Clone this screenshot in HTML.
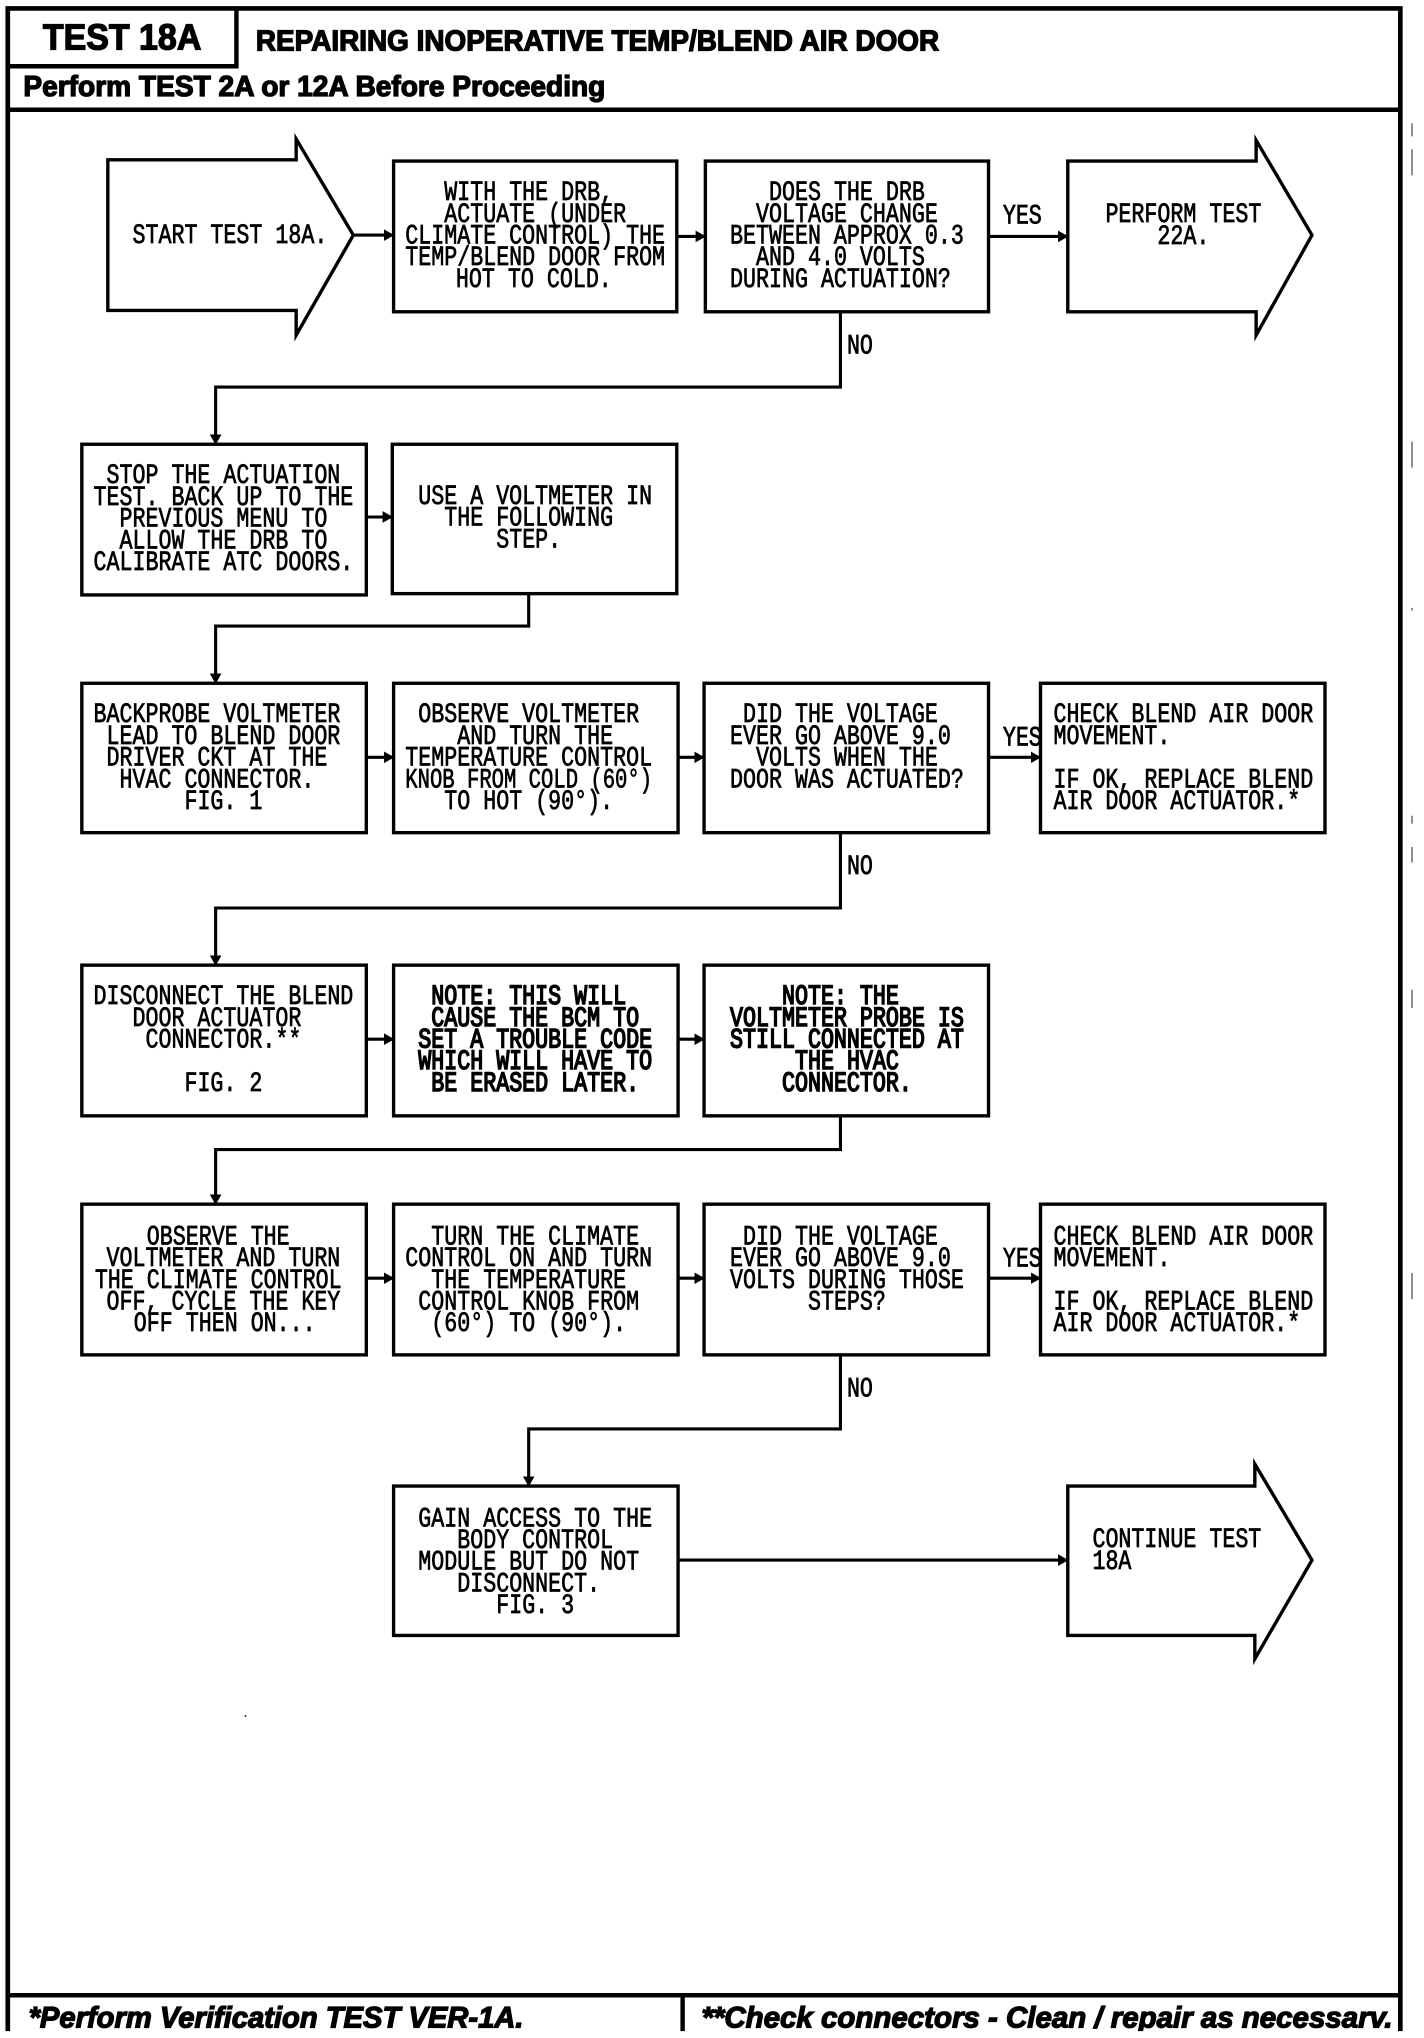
<!DOCTYPE html>
<html><head><meta charset="utf-8"><title>TEST 18A</title>
<style>
html,body{margin:0;padding:0;background:#fff;width:1424px;height:2038px;overflow:hidden}
svg{display:block}
.b{fill:#fff;stroke:#000;stroke-width:2.6;stroke-linejoin:miter}
.l{fill:none;stroke:#000;stroke-width:2.4}
.m{font-family:"Liberation Mono",monospace;font-size:16.67px;fill:#000;stroke:#000;stroke-width:.45}
.n{stroke-width:.95}
.h{font-family:"Liberation Sans",sans-serif;font-weight:bold;fill:#000;stroke:#000;stroke-width:1}
</style></head><body>
<svg width="1424" height="2038" viewBox="0 0 1424 2038" xmlns="http://www.w3.org/2000/svg">
<defs><marker id="a" markerWidth="8" markerHeight="10" refX="7.5" refY="5" orient="auto" markerUnits="userSpaceOnUse"><path d="M0 0.5L8 5L0 9.5z" fill="#000"/></marker></defs>
<g transform="scale(1.299)">
<!-- frame -->
<path d="M6 1570V6.5H1078V1570" fill="none" stroke="#000" stroke-width="3.6"/>
<path d="M6 51H182V6.5M6 84.5H1078M6 1536H1078" fill="none" stroke="#000" stroke-width="3.4"/>
<path d="M525.5 1536V1570" fill="none" stroke="#000" stroke-width="3.4"/>
<path d="M1087 95v10M1087 115v20M1087 340v20M1087 468v2M1087 628v6M1087 652v12M1087 762v14M1087 980v20" fill="none" stroke="#555" stroke-width="1"/>
<circle cx="189" cy="1321" r=".8" fill="#333"/>
<text class="h" x="33" y="38" font-size="27.7" textLength="122" lengthAdjust="spacingAndGlyphs">TEST 18A</text>
<text class="h" x="197" y="39" font-size="22" textLength="526" lengthAdjust="spacingAndGlyphs">REPAIRING INOPERATIVE TEMP/BLEND AIR DOOR</text>
<text class="h" x="18" y="74" font-size="22" textLength="448" lengthAdjust="spacingAndGlyphs">Perform TEST 2A or 12A Before Proceeding</text>
<text class="h" x="22" y="1561" font-size="23" font-style="italic" textLength="381" lengthAdjust="spacingAndGlyphs">*Perform Verification TEST VER-1A.</text>
<text class="h" x="540" y="1561" font-size="23" font-style="italic" textLength="532" lengthAdjust="spacingAndGlyphs">**Check connectors - Clean / repair as necessarv.</text>
<rect x="0" y="1563.6" width="1100" height="10" fill="#fff"/>

<!-- connectors -->
<path class="l" d="M272 181H303" marker-end="url(#a)"/>
<path class="l" d="M521 182H543" marker-end="url(#a)"/>
<path class="l" d="M761 182H822" marker-end="url(#a)"/>
<path class="l" d="M647 240V298H166V342" marker-end="url(#a)"/>
<path class="l" d="M282 398H302" marker-end="url(#a)"/>
<path class="l" d="M407 457V482H166V526" marker-end="url(#a)"/>
<path class="l" d="M282 583H303" marker-end="url(#a)"/>
<path class="l" d="M522 583H542" marker-end="url(#a)"/>
<path class="l" d="M761 583H801" marker-end="url(#a)"/>
<path class="l" d="M647 641V699H166V743" marker-end="url(#a)"/>
<path class="l" d="M282 800H303" marker-end="url(#a)"/>
<path class="l" d="M522 800H542" marker-end="url(#a)"/>
<path class="l" d="M647 859V885H166V927" marker-end="url(#a)"/>
<path class="l" d="M282 984H303" marker-end="url(#a)"/>
<path class="l" d="M522 984H542" marker-end="url(#a)"/>
<path class="l" d="M761 984H801" marker-end="url(#a)"/>
<path class="l" d="M647 1043V1100H407V1144" marker-end="url(#a)"/>
<path class="l" d="M522 1201H822" marker-end="url(#a)"/>

<!-- shapes -->
<path class="b" d="M83 123H228V107L272 181L228 258V239H83Z"/>
<path class="b" d="M822 124H967V108L1010 181L967 258V240H822Z"/>
<path class="b" d="M822 1144H966V1127L1010 1201L966 1277V1259H822Z"/>
<rect class="b" x="303" y="124" width="218" height="116"/>
<rect class="b" x="543" y="124" width="218" height="116"/>
<rect class="b" x="63" y="342" width="219" height="116"/>
<rect class="b" x="302" y="342" width="219" height="115"/>
<rect class="b" x="63" y="526" width="219" height="115"/>
<rect class="b" x="303" y="526" width="219" height="115"/>
<rect class="b" x="542" y="526" width="219" height="115"/>
<rect class="b" x="801" y="526" width="219" height="115"/>
<rect class="b" x="63" y="743" width="219" height="116"/>
<rect class="b" x="303" y="743" width="219" height="116"/>
<rect class="b" x="542" y="743" width="219" height="116"/>
<rect class="b" x="63" y="927" width="219" height="116"/>
<rect class="b" x="303" y="927" width="219" height="116"/>
<rect class="b" x="542" y="927" width="219" height="116"/>
<rect class="b" x="801" y="927" width="219" height="116"/>
<rect class="b" x="303" y="1144" width="219" height="115"/>

<!-- labels -->
<text class="m" transform="translate(772,172) scale(1,1.28)">YES</text>
<text class="m" transform="translate(772,574) scale(1,1.28)">YES</text>
<text class="m" transform="translate(772,975) scale(1,1.28)">YES</text>
<text class="m" transform="translate(652,272) scale(1,1.28)">NO</text>
<text class="m" transform="translate(652,673) scale(1,1.28)">NO</text>
<text class="m" transform="translate(652,1075) scale(1,1.28)">NO</text>

<!-- text blocks -->
<text class="m" transform="translate(0,187) scale(1,1.28)"><tspan x="102" y="0">START TEST 18A.</tspan></text>
<text class="m" transform="translate(0,154) scale(1,1.28)"><tspan x="342" y="0">WITH THE DRB,</tspan><tspan x="342" dy="13.05">ACTUATE (UNDER</tspan><tspan x="312" dy="13.05">CLIMATE CONTROL) THE</tspan><tspan x="312" dy="13.05">TEMP/BLEND DOOR FROM</tspan><tspan x="351" dy="13.05">HOT TO COLD.</tspan></text>
<text class="m" transform="translate(0,154) scale(1,1.28)"><tspan x="592" y="0">DOES THE DRB</tspan><tspan x="582" dy="13.05">VOLTAGE CHANGE</tspan><tspan x="562" dy="13.05">BETWEEN APPROX 0.3</tspan><tspan x="582" dy="13.05">AND 4.0 VOLTS</tspan><tspan x="562" dy="13.05">DURING ACTUATION?</tspan></text>
<text class="m" transform="translate(0,171) scale(1,1.28)"><tspan x="851" y="0">PERFORM TEST</tspan><tspan x="891" dy="13.05">22A.</tspan></text>
<text class="m" transform="translate(0,372) scale(1,1.28)"><tspan x="82" y="0">STOP THE ACTUATION</tspan><tspan x="72" dy="13.05">TEST. BACK UP TO THE</tspan><tspan x="92" dy="13.05">PREVIOUS MENU TO</tspan><tspan x="92" dy="13.05">ALLOW THE DRB TO</tspan><tspan x="72" dy="13.05">CALIBRATE ATC DOORS.</tspan></text>
<text class="m" transform="translate(0,388) scale(1,1.28)"><tspan x="322" y="0">USE A VOLTMETER IN</tspan><tspan x="342" dy="13.05">THE FOLLOWING</tspan><tspan x="382" dy="13.05">STEP.</tspan></text>
<text class="m" transform="translate(0,556) scale(1,1.28)"><tspan x="72" y="0">BACKPROBE VOLTMETER</tspan><tspan x="82" dy="13.05">LEAD TO BLEND DOOR</tspan><tspan x="82" dy="13.05">DRIVER CKT AT THE</tspan><tspan x="92" dy="13.05">HVAC CONNECTOR.</tspan><tspan x="142" dy="13.05">FIG. 1</tspan></text>
<text class="m" transform="translate(0,556) scale(1,1.28)"><tspan x="322" y="0">OBSERVE VOLTMETER</tspan><tspan x="352" dy="13.05">AND TURN THE</tspan><tspan x="312" dy="13.05">TEMPERATURE CONTROL</tspan><tspan x="312" dy="13.05" textLength="190" lengthAdjust="spacingAndGlyphs">KNOB FROM COLD (60°)</tspan><tspan x="342" dy="13.05">TO HOT (90°).</tspan></text>
<text class="m" transform="translate(0,556) scale(1,1.28)"><tspan x="572" y="0">DID THE VOLTAGE</tspan><tspan x="562" dy="13.05">EVER GO ABOVE 9.0</tspan><tspan x="582" dy="13.05">VOLTS WHEN THE</tspan><tspan x="562" dy="13.05">DOOR WAS ACTUATED?</tspan></text>
<text class="m" transform="translate(0,556) scale(1,1.28)"><tspan x="811" y="0">CHECK BLEND AIR DOOR</tspan><tspan x="811" dy="13.05">MOVEMENT.</tspan><tspan x="811" dy="26.1">IF OK, REPLACE BLEND</tspan><tspan x="811" dy="13.05">AIR DOOR ACTUATOR.*</tspan></text>
<text class="m" transform="translate(0,773) scale(1,1.28)"><tspan x="72" y="0">DISCONNECT THE BLEND</tspan><tspan x="102" dy="13.05">DOOR ACTUATOR</tspan><tspan x="112" dy="13.05">CONNECTOR.**</tspan><tspan x="142" dy="26.1">FIG. 2</tspan></text>
<text class="m n" transform="translate(0,773) scale(1,1.28)"><tspan x="332" y="0">NOTE: THIS WILL</tspan><tspan x="332" dy="13.05">CAUSE THE BCM TO</tspan><tspan x="322" dy="13.05">SET A TROUBLE CODE</tspan><tspan x="322" dy="13.05">WHICH WILL HAVE TO</tspan><tspan x="332" dy="13.05">BE ERASED LATER.</tspan></text>
<text class="m n" transform="translate(0,773) scale(1,1.28)"><tspan x="602" y="0">NOTE: THE</tspan><tspan x="562" dy="13.05">VOLTMETER PROBE IS</tspan><tspan x="562" dy="13.05">STILL CONNECTED AT</tspan><tspan x="612" dy="13.05">THE HVAC</tspan><tspan x="602" dy="13.05">CONNECTOR.</tspan></text>
<text class="m" transform="translate(0,958) scale(1,1.28)"><tspan x="113" y="0">OBSERVE THE</tspan><tspan x="82" dy="13.05">VOLTMETER AND TURN</tspan><tspan x="73" dy="13.05">THE CLIMATE CONTROL</tspan><tspan x="82" dy="13.05">OFF, CYCLE THE KEY</tspan><tspan x="103" dy="13.05">OFF THEN ON...</tspan></text>
<text class="m" transform="translate(0,958) scale(1,1.28)"><tspan x="332" y="0">TURN THE CLIMATE</tspan><tspan x="312" dy="13.05">CONTROL ON AND TURN</tspan><tspan x="332" dy="13.05">THE TEMPERATURE</tspan><tspan x="322" dy="13.05">CONTROL KNOB FROM</tspan><tspan x="332" dy="13.05">(60°) TO (90°).</tspan></text>
<text class="m" transform="translate(0,958) scale(1,1.28)"><tspan x="572" y="0">DID THE VOLTAGE</tspan><tspan x="562" dy="13.05">EVER GO ABOVE 9.0</tspan><tspan x="562" dy="13.05">VOLTS DURING THOSE</tspan><tspan x="622" dy="13.05">STEPS?</tspan></text>
<text class="m" transform="translate(0,958) scale(1,1.28)"><tspan x="811" y="0">CHECK BLEND AIR DOOR</tspan><tspan x="811" dy="13.05">MOVEMENT.</tspan><tspan x="811" dy="26.1">IF OK, REPLACE BLEND</tspan><tspan x="811" dy="13.05">AIR DOOR ACTUATOR.*</tspan></text>
<text class="m" transform="translate(0,1175) scale(1,1.28)"><tspan x="322" y="0">GAIN ACCESS TO THE</tspan><tspan x="352" dy="13.05">BODY CONTROL</tspan><tspan x="322" dy="13.05">MODULE BUT DO NOT</tspan><tspan x="352" dy="13.05">DISCONNECT.</tspan><tspan x="382" dy="13.05">FIG. 3</tspan></text>
<text class="m" transform="translate(0,1191) scale(1,1.28)"><tspan x="841" y="0">CONTINUE TEST</tspan><tspan x="841" dy="13.05">18A</tspan></text>
</g>
</svg>
</body></html>
